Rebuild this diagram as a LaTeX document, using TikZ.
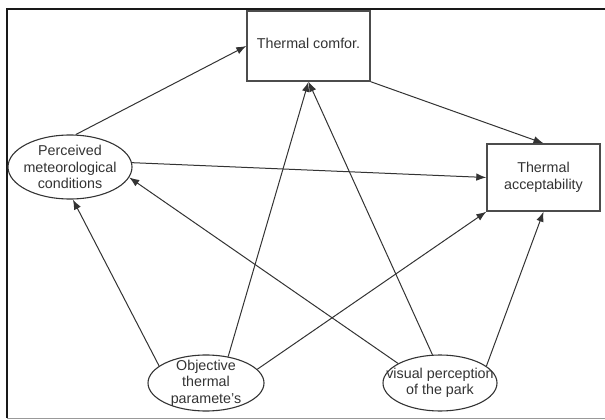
\documentclass[tikz,border=0pt]{standalone}
\usepackage{fontspec}
\setmainfont{Liberation Sans}
\usetikzlibrary{shapes.geometric,arrows.meta}
\begin{document}
\begin{tikzpicture}[x=1pt,y=-1pt,
  box/.style={draw=black!70, line width=1.4pt, inner sep=0pt},
  oval/.style={ellipse, draw=black!80, line width=1.1pt, inner sep=0pt},
  lbl/.style={font=\fontsize{14.3}{16.5}\selectfont, text=black!80, align=center, inner sep=0pt},
  conn/.style={draw=black!80, line width=1pt, -{Latex[length=10pt,width=7.5pt]}}]
\useasboundingbox (0,0) rectangle (605,420);
\draw[line width=2pt, black!90] (7,418) -- (7,9) -- (605,9);
\draw[line width=1pt, black!40] (7,418) -- (605,418);

\node[box, minimum width=123pt, minimum height=70pt] (tc) at (308.5,46) {};
\node[lbl] (tcT) at (308.5,43) {Thermal comfor.};
\node[box, minimum width=113pt, minimum height=67pt] (acc) at (543.5,177.5) {};
\node[lbl] (accT) at (acc.center) {Thermal\\acceptability};

\node[oval, minimum width=124pt, minimum height=64pt] (per) at (70,167) {};
\node[lbl] (perT) at (per.center) {Perceived\\meteorological\\conditions};
\node[oval, minimum width=116pt, minimum height=56pt] (obj) at (206,383) {};
\node[lbl] (objT) at (obj.center) {Objective\\thermal\\paramete's};
\node[oval, minimum width=114pt, minimum height=56pt] (vis) at (440,383) {};
\node[lbl] (visT) at (vis.center) {visual perception\\of the park};

\draw[conn] (per.80) -- (tc.west);
\draw[conn] (tc.south east) -- (acc.north);
\draw[conn] (per.4) -- (acc.west);
\draw[conn] (obj.160) -- (per.-85);
\draw[conn] (obj.50) -- (tc.south);
\draw[conn] (obj.15) -- (acc.south west);
\draw[conn] (vis.105) -- (tc.south);
\draw[conn] (vis.155) -- (per.-10);
\draw[conn] (vis.20) -- (acc.south);
\end{tikzpicture}
\end{document}
